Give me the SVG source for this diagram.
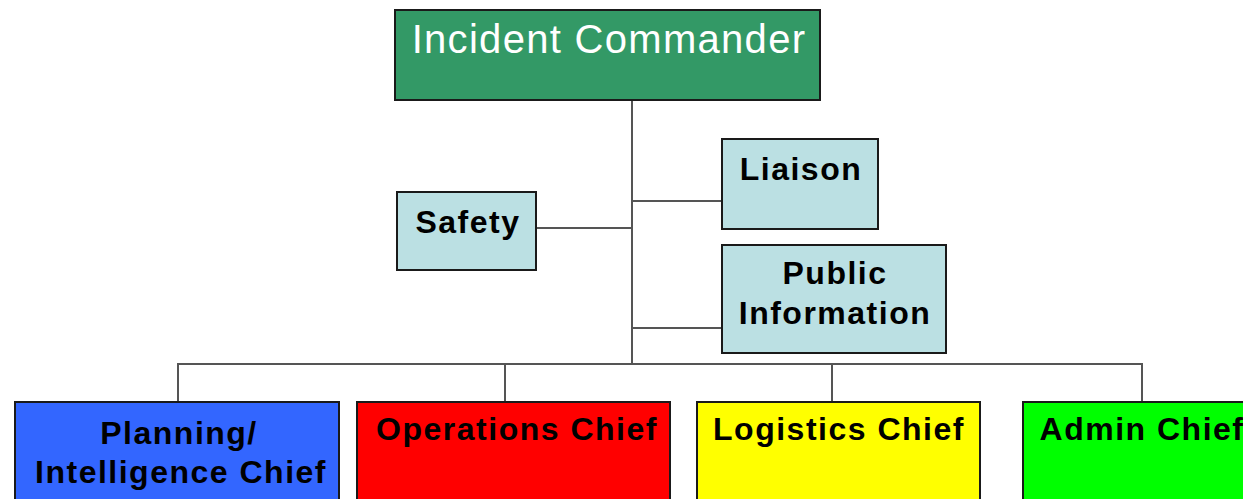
<svg xmlns="http://www.w3.org/2000/svg" width="1243" height="499" viewBox="0 0 1243 499">
<style>
.box{stroke:#1a1a1a;stroke-width:2}
.lb{font-family:"Liberation Sans",Arial,sans-serif;font-weight:bold;font-size:32px;letter-spacing:1.5px;fill:#000;text-anchor:middle}
.ic{font-family:"Liberation Sans",Arial,sans-serif;font-size:40px;letter-spacing:1.3px;fill:#fff;text-anchor:middle}
.conn line{stroke:#555;stroke-width:2}
</style>
<rect width="1243" height="499" fill="#fff"/>
<g class="conn">
<line x1="632" y1="100" x2="632" y2="364"/>
<line x1="632" y1="201" x2="722" y2="201"/>
<line x1="536" y1="228" x2="632" y2="228"/>
<line x1="632" y1="328" x2="722" y2="328"/>
<line x1="177" y1="364" x2="1143" y2="364"/>
<line x1="178" y1="364" x2="178" y2="402"/>
<line x1="505" y1="364" x2="505" y2="402"/>
<line x1="832" y1="364" x2="832" y2="402"/>
<line x1="1142" y1="364" x2="1142" y2="402"/>
</g>
<g id="incident-commander">
<rect class="box" x="395" y="10" width="425" height="90" fill="#339966"/>
<text class="ic" x="609" y="53">Incident Commander</text>
</g>
<g id="liaison">
<rect class="box" x="722" y="139" width="156" height="90" fill="#bbe0e3"/>
<text class="lb" x="801" y="180">Liaison</text>
</g>
<g id="safety">
<rect class="box" x="397" y="192" width="139" height="78" fill="#bbe0e3"/>
<text class="lb" x="468" y="233">Safety</text>
</g>
<g id="public-information">
<rect class="box" x="722" y="245" width="224" height="108" fill="#bbe0e3"/>
<text class="lb" x="835" y="284">Public</text>
<text class="lb" x="835" y="324">Information</text>
</g>
<g id="planning">
<rect class="box" x="15" y="402" width="324" height="110" fill="#3366ff"/>
<text class="lb" x="179" y="444">Planning/</text>
<text class="lb" x="181" y="483">Intelligence Chief</text>
</g>
<g id="operations">
<rect class="box" x="357" y="402" width="313" height="110" fill="#ff0000"/>
<text class="lb" x="517" y="440">Operations Chief</text>
</g>
<g id="logistics">
<rect class="box" x="697" y="402" width="283" height="110" fill="#ffff00"/>
<text class="lb" x="839" y="440">Logistics Chief</text>
</g>
<g id="admin">
<rect class="box" x="1023" y="402" width="240" height="110" fill="#00ff00"/>
<text class="lb" x="1142" y="440">Admin Chief</text>
</g>
</svg>
